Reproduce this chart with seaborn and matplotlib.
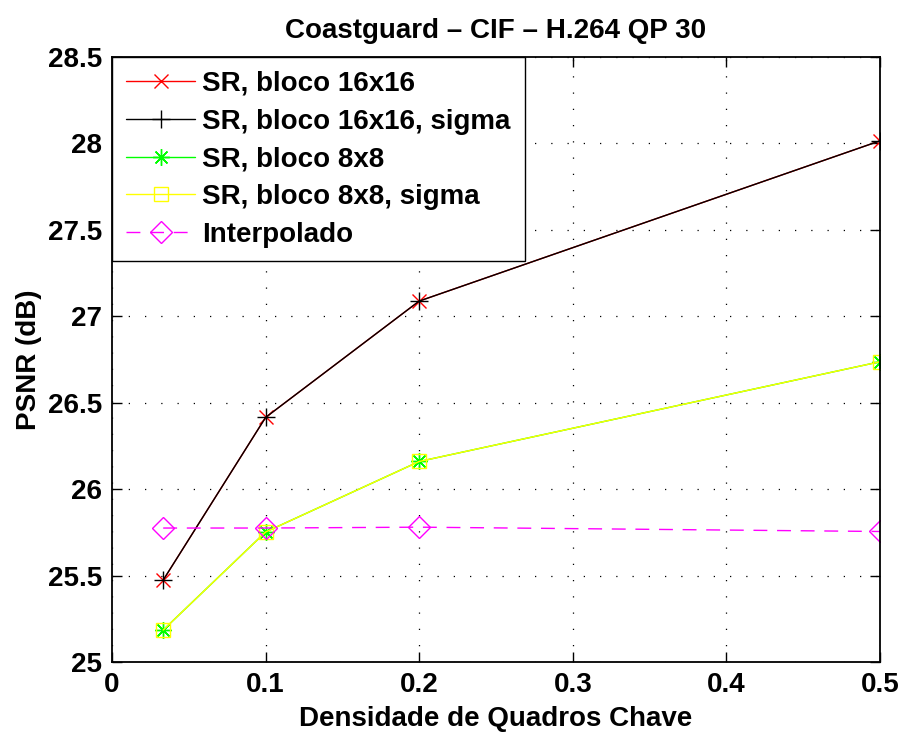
import matplotlib
matplotlib.use("Agg")
import matplotlib.pyplot as plt
import seaborn as sns
import pandas as pd
import numpy as np

# Key-frame density (fraction of frames coded as key frames)
densidade = [1/30, 0.1, 0.2, 0.5]

# PSNR (dB) per method
sr_16 = [25.474, 26.415, 27.088, 28.015]
sr_16_sigma = [25.474, 26.415, 27.088, 28.015]
sr_8 = [25.185, 25.752, 26.160, 26.737]
sr_8_sigma = [25.185, 25.752, 26.160, 26.737]
interpolado = [25.775, 25.775, 25.780, 25.755]

labels = ["SR, bloco 16x16", "SR, bloco 16x16, sigma", "SR, bloco 8x8",
          "SR, bloco 8x8, sigma", "Interpolado"]
series = [sr_16, sr_16_sigma, sr_8, sr_8_sigma, interpolado]

sns.set_style("white")
plt.rcParams["font.family"] = ["Liberation Sans", "DejaVu Sans"]
plt.rcParams["font.weight"] = "bold"
for key in ["text.color", "axes.labelcolor", "xtick.color", "ytick.color"]:
    plt.rcParams[key] = "black"

FS = 20

fig = plt.figure(figsize=(9.02, 7.33), dpi=100)
ax = fig.add_axes([112/902, 1 - 662/733, (880-112)/902, (662-57)/733])

styles = [
    dict(color="#ff0000", marker="x", dash=None, ms=10),
    dict(color="#000000", marker="+", dash=None, ms=13),
    dict(color="#00ff00", marker=(8, 2, 0), dash=None, ms=12),
    dict(color="#ffff00", marker="s", dash=None, ms=10),
    dict(color="#ff00ff", marker="D", dash=(10, 7), ms=11),
]

for lab, vals, st in zip(labels, series, styles):
    df = pd.DataFrame({"x": densidade, "y": vals})
    sns.lineplot(data=df, x="x", y="y", ax=ax, label=lab, color=st["color"],
                 marker=st["marker"], markersize=st["ms"], markerfacecolor="none",
                 markeredgecolor=st["color"], markeredgewidth=1.0,
                 linewidth=1.0, dashes=False, errorbar=None)
    if st["dash"] is not None:
        ax.lines[-1].set_dashes(st["dash"])

ax.set_xlim(0, 0.5)
ax.set_ylim(25, 28.5)
ax.set_xticks(np.arange(0, 0.51, 0.1))
ax.set_xticklabels(["0", "0.1", "0.2", "0.3", "0.4", "0.5"])
ax.set_yticks(np.arange(25, 28.51, 0.5))
ax.set_yticklabels(["25", "25.5", "26", "26.5", "27", "27.5", "28", "28.5"])

ax.grid(True, color="black", linestyle=(0, (1, 12)), linewidth=0.9)
ax.tick_params(direction="in", length=7, width=1, labelsize=FS, pad=7,
               top=True, right=True, bottom=True, left=True)
for lbl in ax.get_xticklabels() + ax.get_yticklabels():
    lbl.set_fontweight("bold")
for sp in ax.spines.values():
    sp.set_color("black")
    sp.set_linewidth(1.3)

ax.set_xlabel("Densidade de Quadros Chave", fontsize=FS, fontweight="bold", labelpad=6)
ax.set_ylabel("PSNR (dB)", fontsize=FS, fontweight="bold", labelpad=4)
ax.set_title("Coastguard \u2013 CIF \u2013 H.264 QP 30", fontsize=FS, fontweight="bold", pad=14)

leg = ax.legend(loc="upper left", bbox_to_anchor=(0, 1), borderaxespad=0,
                prop={"size": FS, "weight": "bold"}, frameon=True, fancybox=False,
                handlelength=2.5, labelspacing=0.42, borderpad=0.5, handletextpad=0.25)
leg.get_frame().set_edgecolor("black")
leg.get_frame().set_linewidth(1.0)
leg.get_frame().set_alpha(1)

fig.savefig("out.png", dpi=100)
